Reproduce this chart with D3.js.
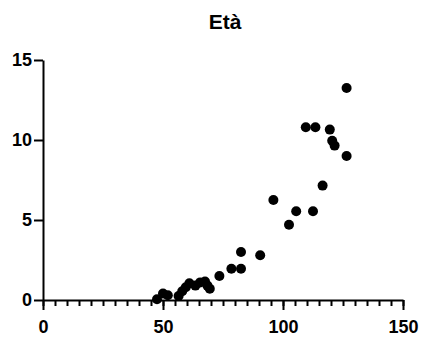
<!DOCTYPE html>
<html>
<head>
<meta charset="utf-8">
<script src="https://cdn.jsdelivr.net/npm/d3@7"></script>
<style>
  body { margin: 0; background: #fff; }
  text { font-family: "Liberation Sans", Arial, sans-serif; font-weight: bold; }
</style>
</head>
<body>
<div id="chart"></div>
<script>
const title = 'Età';
const xValues = [47.5, 50, 52, 56.5, 58, 59.5, 61, 63.5, 65.5, 67.5, 68.5, 69.5, 73.5, 78.5, 82.5, 82.5, 90.5, 96, 102.5, 105.5, 112.5, 116.5, 109.5, 113.5, 119.5, 120.5, 121.5, 126.5, 126.5];
const yValues = [0.05, 0.4, 0.3, 0.25, 0.55, 0.8, 1.05, 0.9, 1.1, 1.15, 0.9, 0.7, 1.5, 1.95, 1.95, 3.0, 2.8, 6.25, 4.7, 5.55, 5.55, 7.15, 10.8, 10.8, 10.65, 9.95, 9.65, 9.0, 13.25];
const xTicks = [0, 50, 100, 150];
const xMinorTicks = d3.range(0, 151, 5);
const yTicks = [0, 5, 10, 15];

const width = 421, height = 338;
const margin = { top: 60, right: 18, bottom: 38, left: 43 };

const svg = d3.select('#chart')
  .append('svg')
  .attr('width', width)
  .attr('height', height);

const x = d3.scaleLinear().domain([0, 150]).range([margin.left, width - margin.right]);
const y = d3.scaleLinear().domain([0, 15]).range([height - margin.bottom, margin.top]);

// minor ticks on x
svg.append('g')
  .attr('transform', 'translate(0,' + y(0) + ')')
  .call(d3.axisBottom(x).tickValues(xMinorTicks).tickSize(6).tickFormat(''))
  .call(g => g.select('.domain').remove())
  .call(g => g.selectAll('line').attr('stroke', '#000').attr('stroke-width', 2));

const xAxis = svg.append('g')
  .attr('transform', 'translate(0,' + y(0) + ')')
  .call(d3.axisBottom(x).tickValues(xTicks).tickSize(10).tickSizeOuter(0).tickPadding(10));
xAxis.select('.domain').attr('stroke-width', 2);
xAxis.selectAll('line').attr('stroke-width', 2);
xAxis.selectAll('text').attr('font-size', 18).attr('fill', '#000');

const yAxis = svg.append('g')
  .attr('transform', 'translate(' + x(0) + ',0)')
  .call(d3.axisLeft(y).tickValues(yTicks).tickSize(9).tickSizeOuter(0).tickPadding(2));
yAxis.select('.domain').attr('stroke-width', 2);
yAxis.selectAll('line').attr('stroke-width', 2);
yAxis.selectAll('text').attr('font-size', 18).attr('fill', '#000');

svg.selectAll('.dot')
  .data(xValues.map((d, i) => ({ x: d, y: yValues[i] })))
  .enter().append('circle')
  .attr('class', 'dot')
  .attr('cx', d => x(d.x))
  .attr('cy', d => y(d.y))
  .attr('r', 5)
  .attr('fill', '#000');

svg.append('text')
  .attr('x', (x(0) + x(150)) / 2 + 2)
  .attr('y', 29)
  .attr('text-anchor', 'middle')
  .attr('font-size', 21)
  .text(title);
</script>
</body>
</html>
